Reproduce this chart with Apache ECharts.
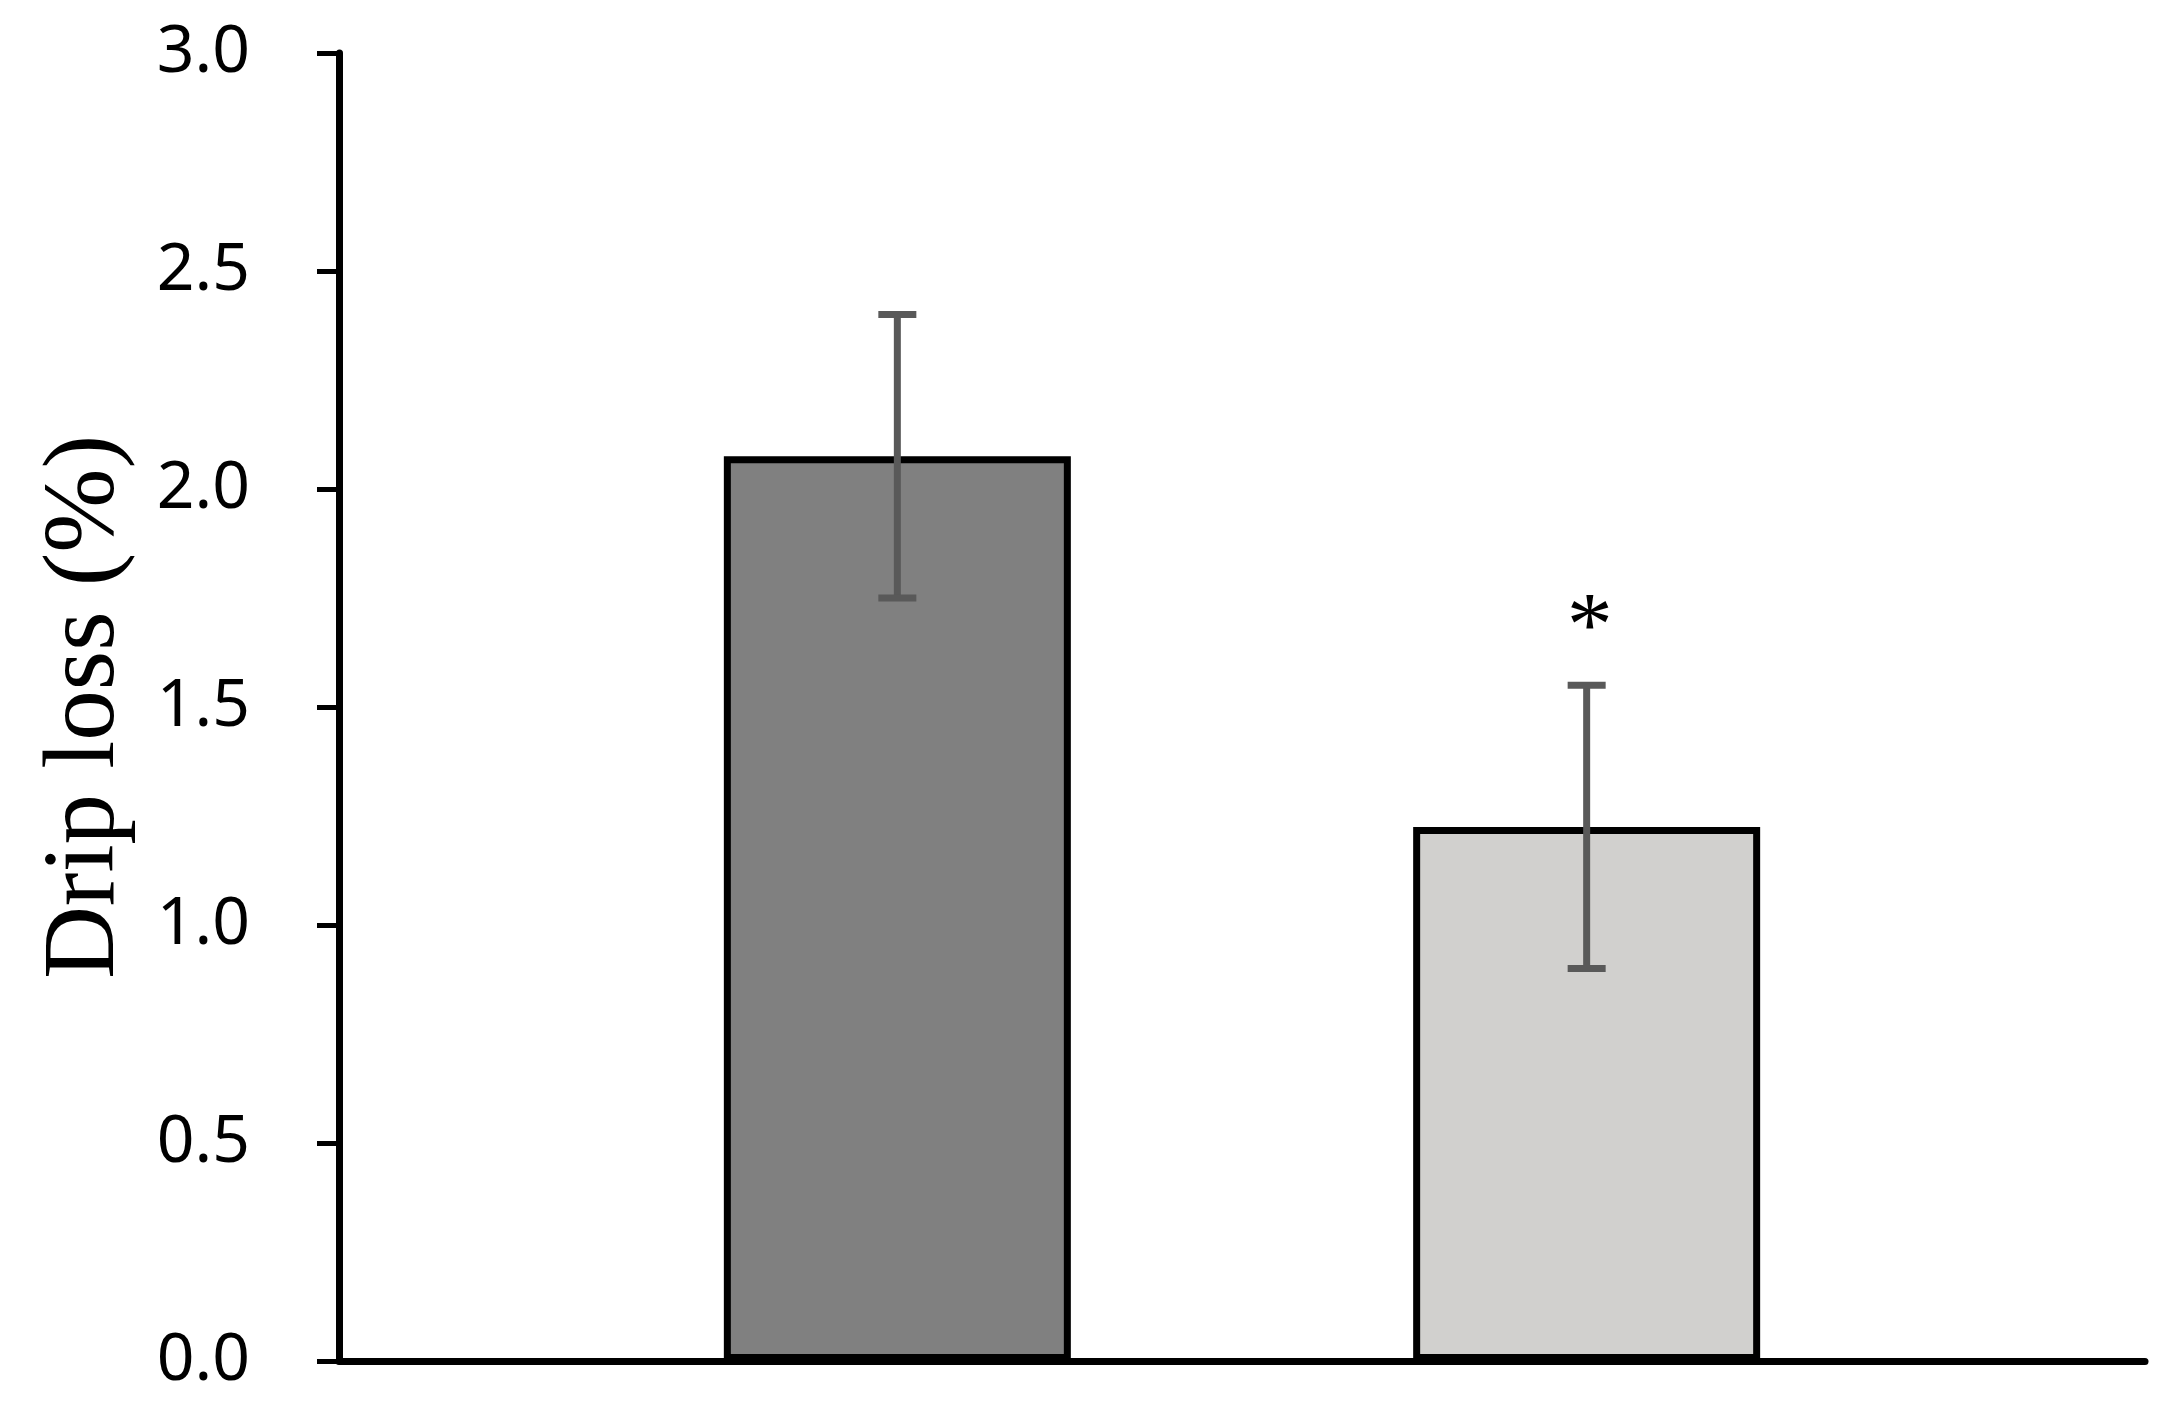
<!DOCTYPE html>
<html>
<head>
<meta charset="utf-8">
<script src="https://cdn.jsdelivr.net/npm/echarts@6/dist/echarts.min.js"></script>
<style>
html,body{margin:0;padding:0;background:#fff;}
#chart{width:2176px;height:1409px;}
</style>
</head>
<body>
<div id="chart"></div>
<script>
// ---- data ----
const groupPositions = [1, 2];
const means = [2.075, 1.225];
const errors = [0.325, 0.325];
const marks = ['', '*'];
const barColors = ['#808080', '#D1D0CE'];
const yTicks = [0, 0.5, 1.0, 1.5, 2.0, 2.5, 3.0];
const yTitle = 'Drip loss (%)';

const chart = echarts.init(document.getElementById('chart'), null, {renderer: 'canvas'});

const barData = groupPositions.map((x, i) => ({
  value: [x, means[i]],
  itemStyle: {color: barColors[i]}
}));
const errData = groupPositions.map((x, i) => [x, means[i] - errors[i], means[i] + errors[i], marks[i]]);

chart.setOption({
  animation: false,
  backgroundColor: '#ffffff',
  grid: {left: 339, right: 31, top: 53, bottom: 48, containLabel: false, outerBoundsMode: 'none'},
  xAxis: {
    type: 'value',
    min: 0.19,
    max: 2.81,
    axisLine: {show: true, onZero: true, lineStyle: {color: '#000', width: 7}},
    axisTick: {show: false},
    axisLabel: {show: false},
    splitLine: {show: false}
  },
  yAxis: {
    type: 'value',
    min: yTicks[0],
    max: yTicks[yTicks.length - 1],
    interval: 0.5,
    name: yTitle,
    nameLocation: 'middle',
    nameGap: 202,
    nameTextStyle: {fontFamily: 'Liberation Serif', fontSize: 101, color: '#000'},
    axisLine: {show: true, lineStyle: {color: '#000', width: 7}},
    axisTick: {show: true, inside: false, length: 22, lineStyle: {color: '#000', width: 5}},
    axisLabel: {
      margin: 89,
      fontFamily: 'Noto Sans',
      fontSize: 66,
      color: '#000',
      formatter: v => v.toFixed(1)
    },
    splitLine: {show: false}
  },
  series: [
    {
      type: 'bar',
      data: barData,
      barWidth: 347,
      itemStyle: {borderColor: '#000', borderWidth: 7},
      z: 2
    },
    {
      type: 'custom',
      data: errData,
      z: 5,
      renderItem: function (params, api) {
        const x = api.value(0);
        const lo = api.coord([x, api.value(1)]);
        const hi = api.coord([x, api.value(2)]);
        const mark = errData[params.dataIndex][3];
        const capHalf = 19;
        const style = {stroke: '#595959', lineWidth: 7};
        const children = [
          {type: 'line', shape: {x1: lo[0], y1: lo[1], x2: hi[0], y2: hi[1]}, style: style},
          {type: 'line', shape: {x1: hi[0] - capHalf, y1: hi[1], x2: hi[0] + capHalf, y2: hi[1]}, style: style},
          {type: 'line', shape: {x1: lo[0] - capHalf, y1: lo[1], x2: lo[0] + capHalf, y2: lo[1]}, style: style}
        ];
        if (mark) {
          children.push({
            type: 'text',
            style: {
              text: mark,
              x: hi[0] + 3,
              y: hi[1] - 54,
              fill: '#000',
              font: '92px "Liberation Serif"',
              align: 'center',
              verticalAlign: 'middle'
            }
          });
        }
        return {type: 'group', children: children};
      }
    }
  ]
});
</script>
</body>
</html>
